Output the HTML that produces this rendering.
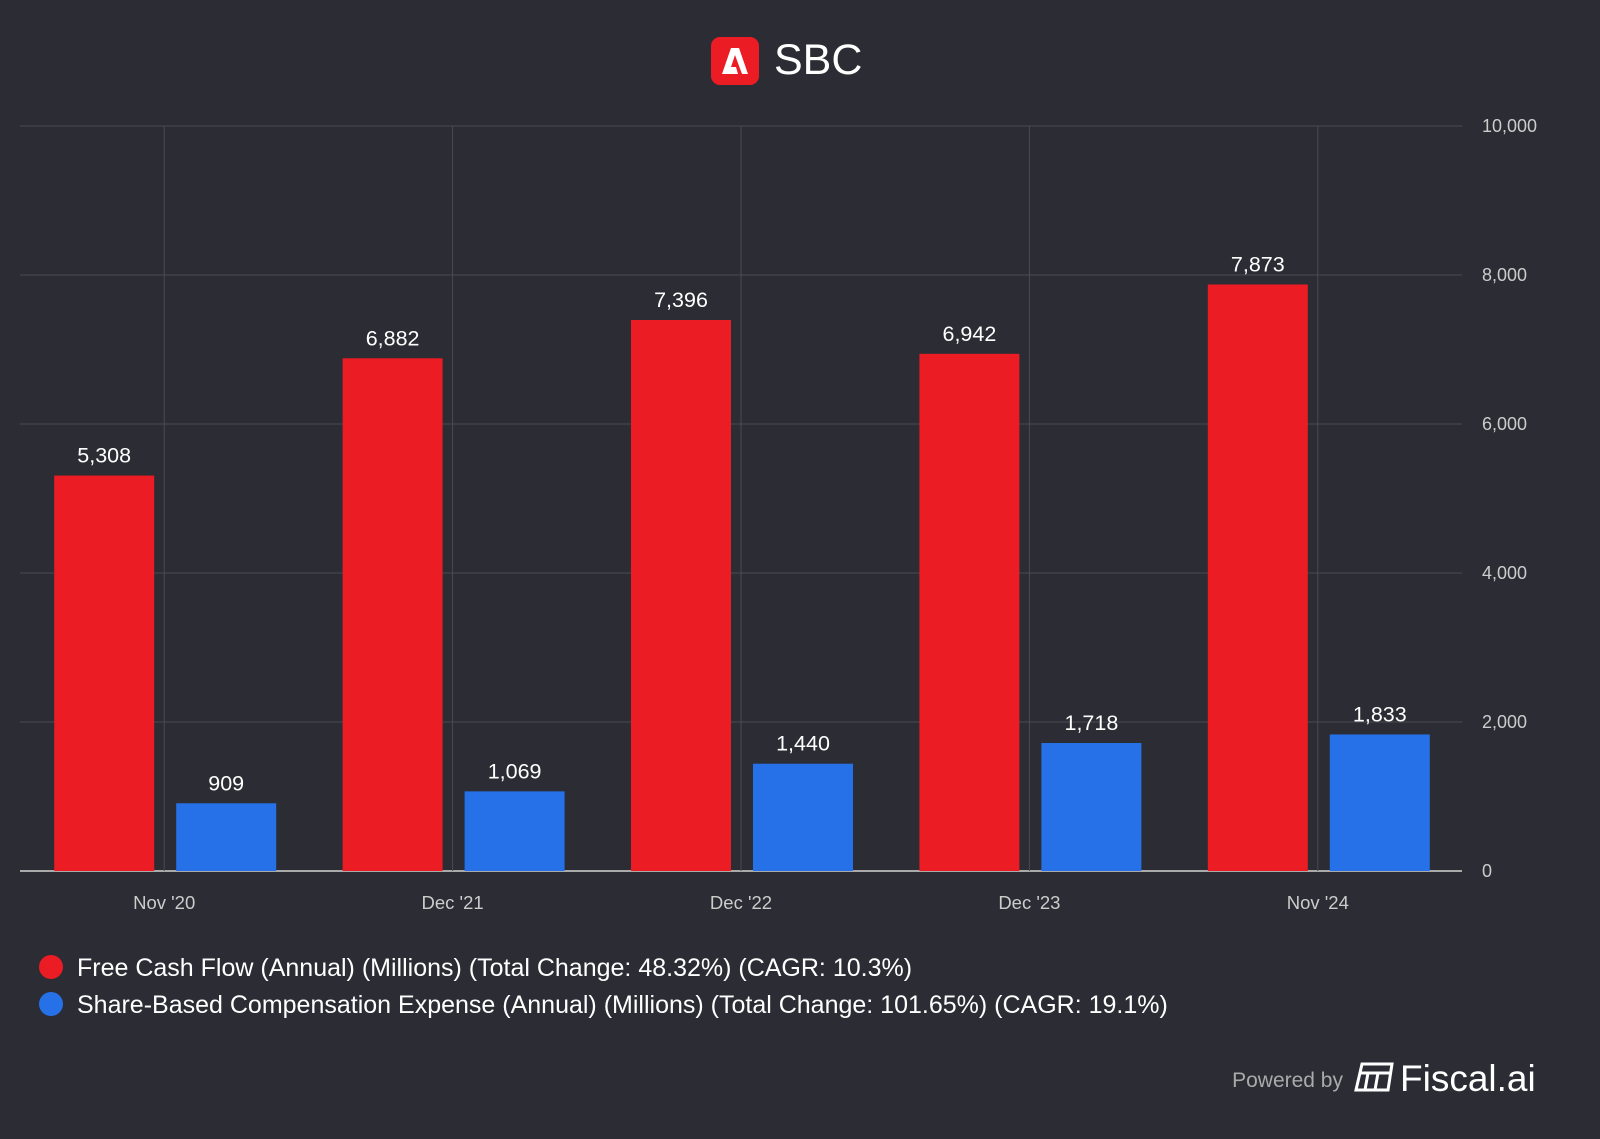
<!DOCTYPE html>
<html><head><meta charset="utf-8"><style>
body{margin:0;background:#2b2c34;width:1600px;height:1134px;overflow:hidden;font-family:"Liberation Sans",sans-serif}
</style></head><body>
<svg width="1600" height="1134" xmlns="http://www.w3.org/2000/svg" id="chart">
<rect width="1600" height="1134" fill="#2b2c34"/>
<g>
<rect x="711" y="37" width="48" height="48" rx="9" fill="#eb1c24"/>
<path d="M722 74 L731 48 L739 48 L748 74 L742 74 L735 55 L731 67 L736 67 L738 74 Z" fill="#fff"/>
<text x="774" y="74" font-size="43" fill="#fff">SBC</text>
</g>
<g id="grid"></g>
<g id="bars"></g>
<g>
<circle cx="51" cy="967" r="12" fill="#eb1c24"/>
<text x="77" y="976" font-size="25" fill="#fff">Free Cash Flow (Annual) (Millions) (Total Change: 48.32%) (CAGR: 10.3%)</text>
<circle cx="51" cy="1004" r="12" fill="#2671e8"/>
<text x="77" y="1013" font-size="25" fill="#fff">Share-Based Compensation Expense (Annual) (Millions) (Total Change: 101.65%) (CAGR: 19.1%)</text>
</g>
<g>
<text x="1343" y="1087" font-size="21" fill="#aaa" text-anchor="end">Powered by</text>
<g stroke="#fff" stroke-width="3" fill="none">
<path d="M1362 1064 L1392 1064 L1388 1090 L1356 1090 Z"/><path d="M1360 1073 L1390 1073 M1368 1073 L1365 1090 M1378 1073 L1375 1090"/>
</g>
<text x="1400" y="1091" font-size="37" fill="#fff">Fiscal.ai</text>
</g>
</svg>
<script>
const categories=["Nov '20","Dec '21","Dec '22","Dec '23","Nov '24"];
const fcfValues=[5308,6882,7396,6942,7873];
const sbcValues=[909,1069,1440,1718,1833];
const yTicks=[0,2000,4000,6000,8000,10000];
const NS="http://www.w3.org/2000/svg";
const L=20,R=1462,T=126,B=871,ymax=10000;
const y=v=>B-(v/ymax)*(B-T);
const bw=(R-L)/categories.length;
const xc=i=>L+bw*(i+0.5);
function mk(tag,attrs,parent){const e=document.createElementNS(NS,tag);for(const k in attrs)e.setAttribute(k,attrs[k]);parent.appendChild(e);return e;}
const grid=document.getElementById('grid'),bars=document.getElementById('bars');
yTicks.forEach(t=>{
 const ln=mk('line',{x1:L,x2:R,y1:y(t),y2:y(t),stroke:t===0?'#aaa':'#4a4b53','stroke-width':t===0?2:1},grid);
 
 
 const tx=mk('text',{x:1482,y:y(t)+6,'font-size':18,fill:'#ccc'},grid);
 tx.textContent=t.toLocaleString('en-US');
 
 
});
categories.forEach((c,i)=>{
 const vl=mk('line',{x1:xc(i),x2:xc(i),y1:T,y2:B,stroke:'#4a4b53','stroke-width':1},grid);
 
 
 const tx=mk('text',{x:xc(i),y:909,'font-size':18.5,fill:'#ccc','text-anchor':'middle'},grid);
 tx.textContent=c;
 
 
 [[fcfValues[i],-60,'#eb1c24','bar-fcf'],[sbcValues[i],62,'#2671e8','bar-sbc']].forEach(([v,off,col,nm])=>{
  const cx=xc(i)+off;
  const r=mk('rect',{x:cx-50,y:y(v),width:100,height:B-y(v),fill:col},bars);
  
  
  const lb=mk('text',{x:cx,y:y(v)-13,'font-size':21.5,fill:'#fff','text-anchor':'middle'},bars);
  lb.textContent=v.toLocaleString('en-US');
  
  
 });
});
</script>
</body></html>
